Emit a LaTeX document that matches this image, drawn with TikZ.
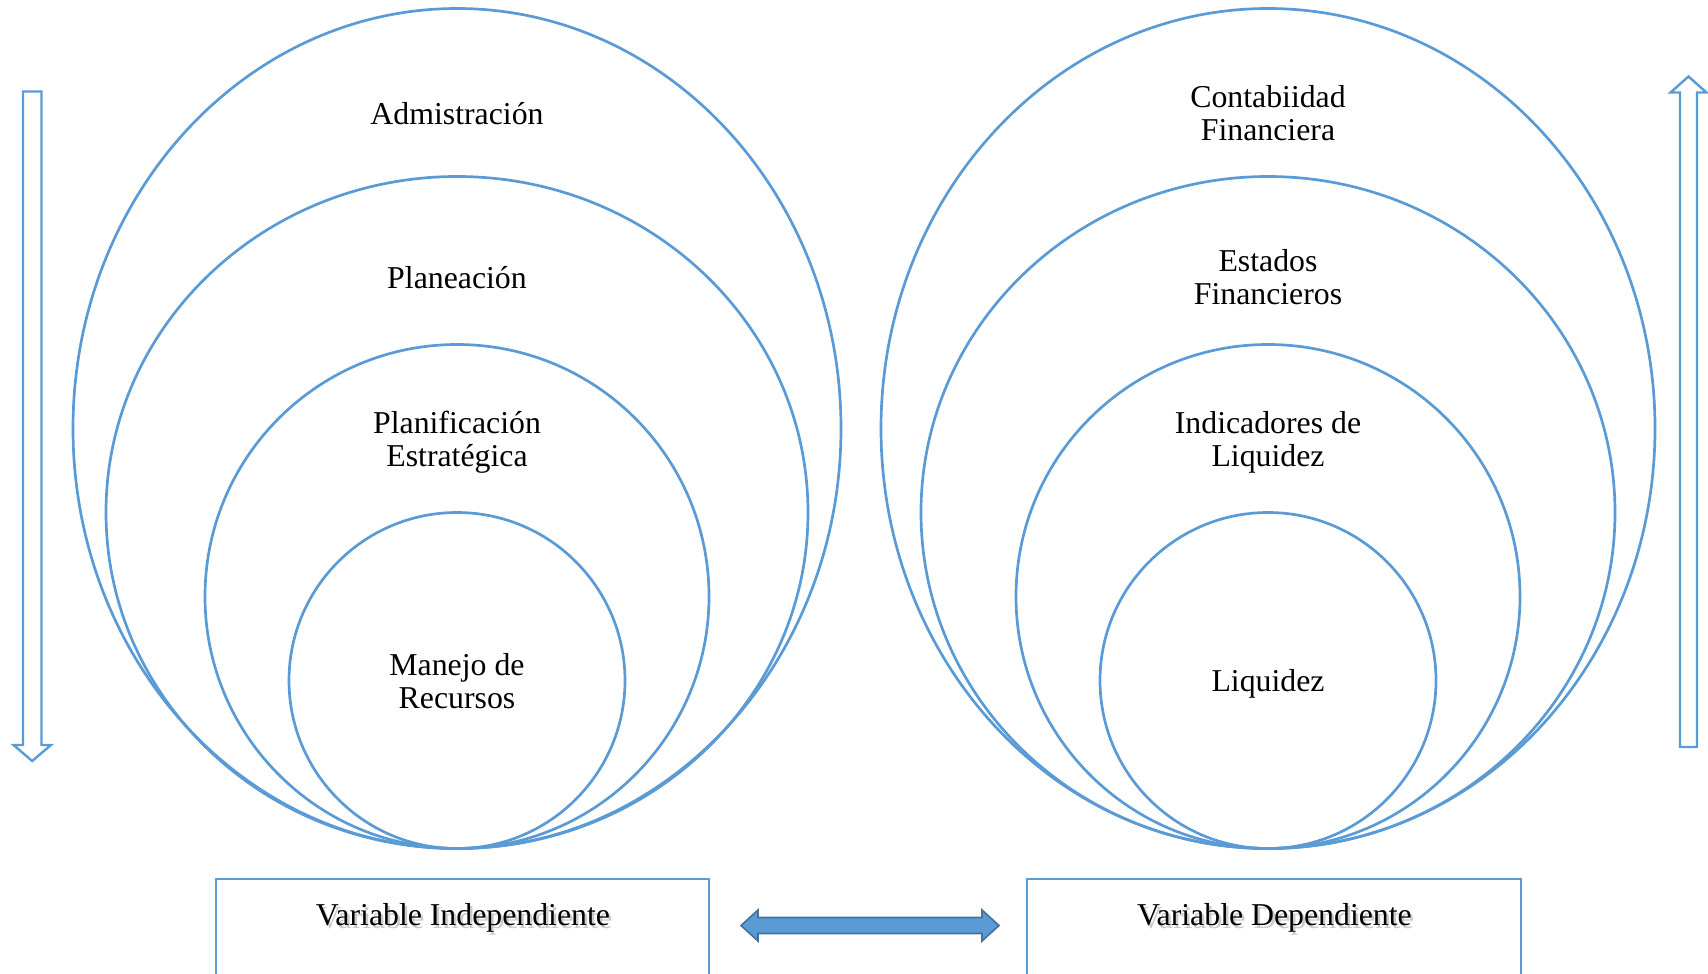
\documentclass[tikz,border=0pt]{standalone}
\usepackage{fontspec}
\setmainfont{Liberation Serif}
\usetikzlibrary{shapes.geometric,calc}
\definecolor{ringblue}{HTML}{5B9BD5}
\definecolor{edgeblue}{HTML}{41719C}
\begin{document}
\begin{tikzpicture}[x=0.5pt,y=-0.5pt,
  ring/.style={draw=ringblue,line width=1.35pt,ellipse,inner sep=0pt},
  label/.style={font=\fontsize{15.9}{16.4}\selectfont,align=center,text=black,inner sep=0pt},
  varbox/.style={draw=ringblue,line width=1.1pt,rectangle,inner sep=0pt,minimum width=246.7pt,minimum height=80pt,anchor=north},
  shadowtext/.style={font=\fontsize{15.9}{16.4}\selectfont,text=black!45,opacity=0.45,inner sep=0pt},
  hollowarrow/.style={draw=ringblue,line width=1.2pt,fill=white}]
\useasboundingbox (0,0) rectangle (1708,974);
\clip (0,0) rectangle (1708,974);

% left family of nested circles
\node[ring,minimum width=384pt,minimum height=420pt] (L1) at (457,428.5) {};
\node[ring,minimum width=351pt,minimum height=336pt] (L2) at (457,512.5) {};
\node[ring,minimum width=252pt,minimum height=252pt] (L3) at (457,596.5) {};
\node[ring,minimum width=168pt,minimum height=168pt] (L4) at (457,680.5) {};

\node[label] (tL1) at (457,114) {Admistración};
\node[label] (tL2) at (457,278) {Planeación};
\node[label] (tL3) at (457,442) {Planificación\\Estratégica};
\node[label] (tL4) at (457,681) {Manejo de\\Recursos};

% right family of nested circles
\node[ring,minimum width=387pt,minimum height=420pt] (R1) at (1268,428.5) {};
\node[ring,minimum width=347pt,minimum height=336pt] (R2) at (1268,512.5) {};
\node[ring,minimum width=252pt,minimum height=252pt] (R3) at (1268,596.5) {};
\node[ring,minimum width=168pt,minimum height=168pt] (R4) at (1268,680.5) {};

\node[label] (tR1) at (1268,113) {Contabiidad\\Financiera};
\node[label] (tR2) at (1268,277) {Estados\\Financieros};
\node[label] (tR3) at (1268,442) {Indicadores de\\Liquidez};
\node[label] (tR4) at (1268,684) {Liquidez};

% hollow arrow pointing down (left)
\draw[hollowarrow] (23,91.5) -- (41.5,91.5) -- (41.5,745) -- (51,745) -- (32.2,761)
  -- (13.5,745) -- (23,745) -- cycle;
% hollow arrow pointing up (right)
\draw[hollowarrow] (1680,747) -- (1697,747) -- (1697,92.5) -- (1706.5,92.5) -- (1688.5,76.5)
  -- (1670.5,92.5) -- (1680,92.5) -- cycle;

% variable boxes
\node[varbox] (bL) at (462.4,878) {};
\node[varbox] (bR) at (1274,878) {};
\node[shadowtext] at (465.5,921) {Variable Independiente};
\node[label] (vL) at (463,918) {Variable Independiente};
\node[shadowtext] at (1277,921) {Variable Dependiente};
\node[label] (vR) at (1274.5,918) {Variable Dependiente};

% two-headed block arrow between the boxes
\coordinate (aL) at (741,925.5);
\coordinate (aR) at (999,925.5);
\filldraw[fill=ringblue,draw=edgeblue,line width=0.8pt]
  (aL) -- ++(17,-15.5) -- ++(0,7.5) -- ($(aR)+(-17,-8)$) -- ++(0,-7.5) -- (aR)
  -- ++(-17,15.5) -- ++(0,-7.5) -- ($(aL)+(17,8)$) -- ++(0,7.5) -- cycle;
\end{tikzpicture}
\end{document}
